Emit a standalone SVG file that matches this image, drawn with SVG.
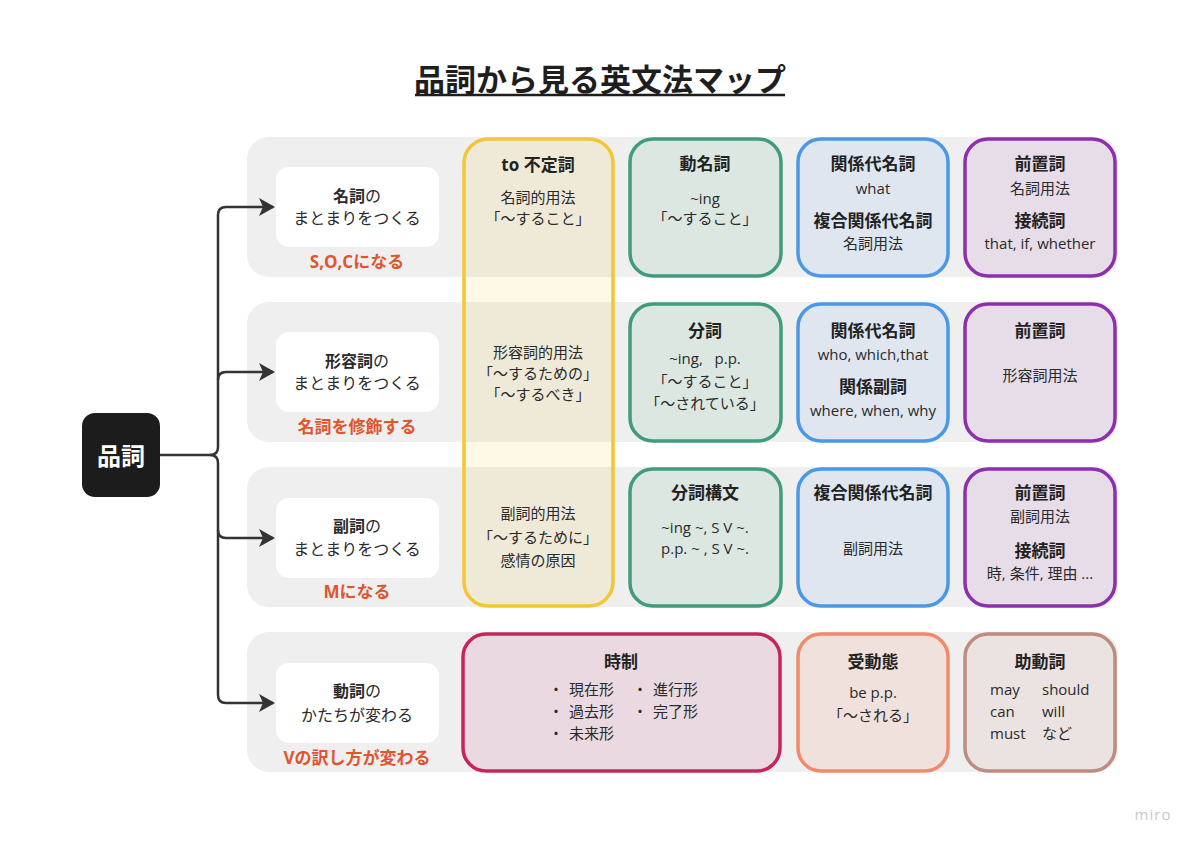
<svg xmlns="http://www.w3.org/2000/svg" width="1200" height="848" viewBox="0 0 1200 848">
<style>
text{font-family:"Open Sans","Noto Sans CJK JP",sans-serif;fill:#222;text-anchor:middle;dominant-baseline:central}
.t{font-size:31px;font-weight:700;fill:#1e1e1e}
.h{font-size:17px;font-weight:700}
.b{font-size:15px;fill:#2a2a2a}
.n{font-size:16px;fill:#2a2a2a}
.nb{font-weight:700}
.o{font-size:17px;font-weight:700;fill:#e0552d}
.l{text-anchor:start}
.band{fill:#efefef}
.wn{fill:#ffffff}
.conn{fill:none;stroke:#333;stroke-width:2.5}
.box{stroke-width:3.5}
</style>
<defs>
<marker id="arr" viewBox="0 0 16 18" refX="14" refY="9" markerWidth="16" markerHeight="18" markerUnits="userSpaceOnUse" orient="auto">
<path d="M0,0 L16,9 L0,18 L4,9 Z" fill="#333"/>
</marker>
</defs>
<rect width="1200" height="848" fill="#ffffff"/>

<g id="title">
<text class="t" x="600" y="79">品詞から見る英文法マップ</text>
<line x1="415" y1="95" x2="785" y2="95" stroke="#1e1e1e" stroke-width="2.5"/>
</g>

<g id="bands">
<rect class="band" x="247" y="137" width="871" height="140" rx="22"/>
<rect class="band" x="247" y="302" width="871" height="140" rx="22"/>
<rect class="band" x="247" y="467" width="871" height="140" rx="22"/>
<rect class="band" x="247" y="632" width="871" height="140" rx="22"/>
</g>

<g id="root">
<rect x="82" y="413" width="78" height="84" rx="13" fill="#1c1c1c"/>
<text x="121" y="455" style="font-size:24px;font-weight:700;fill:#ffffff">品詞</text>
</g>

<g id="connectors">
<path class="conn" d="M160 455 H210 Q218 455 218 447 V215 Q218 207 226 207 H273" marker-end="url(#arr)"/>
<path class="conn" d="M218 380 Q218 372 226 372 H273" marker-end="url(#arr)"/>
<path class="conn" d="M210 455 Q218 455 218 463 V695 Q218 703 226 703 H273" marker-end="url(#arr)"/>
<path class="conn" d="M218 530 Q218 538 226 538 H273" marker-end="url(#arr)"/>
</g>

<g id="node-noun">
<rect class="wn" x="276" y="167" width="163" height="80" rx="13"/>
<text class="n" x="357" y="196"><tspan class="nb">名詞</tspan>の</text>
<text class="n" x="357" y="218">まとまりをつくる</text>
<text class="o" x="357" y="261">S,O,Cになる</text>
</g>

<g id="node-adj">
<rect class="wn" x="276" y="332" width="163" height="80" rx="13"/>
<text class="n" x="357" y="361"><tspan class="nb">形容詞</tspan>の</text>
<text class="n" x="357" y="383">まとまりをつくる</text>
<text class="o" x="357" y="426">名詞を修飾する</text>
</g>

<g id="node-adv">
<rect class="wn" x="276" y="498" width="163" height="80" rx="13"/>
<text class="n" x="357" y="526"><tspan class="nb">副詞</tspan>の</text>
<text class="n" x="357" y="549">まとまりをつくる</text>
<text class="o" x="357" y="591">Mになる</text>
</g>

<g id="node-verb">
<rect class="wn" x="276" y="663" width="163" height="80" rx="13"/>
<text class="n" x="357" y="691"><tspan class="nb">動詞</tspan>の</text>
<text class="n" x="357" y="715">かたちが変わる</text>
<text class="o" x="357" y="757">Vの訳し方が変わる</text>
</g>

<g id="to-infinitive">
<rect class="box" x="464" y="139" width="149" height="467" rx="24" fill="#f5c518" fill-opacity="0.1" stroke="#f2c634"/>
<text class="h" x="538" y="164">to 不定詞</text>
<text class="b" x="538" y="197">名詞的用法</text>
<text class="b" x="538" y="218">「～すること」</text>
<text class="b" x="538" y="352">形容詞的用法</text>
<text class="b" x="538" y="373">「～するための」</text>
<text class="b" x="538" y="394">「～するべき」</text>
<text class="b" x="538" y="513">副詞的用法</text>
<text class="b" x="538" y="537">「～するために」</text>
<text class="b" x="538" y="560">感情の原因</text>
</g>

<g id="gerund">
<rect class="box" x="630" y="139" width="151" height="137" rx="23" fill="#dde7e2" stroke="#3f9d7e"/>
<text class="h" x="705" y="163">動名詞</text>
<text class="b" x="705" y="198">~ing</text>
<text class="b" x="705" y="218">「～すること」</text>
</g>

<g id="relpron-1">
<rect class="box" x="798" y="139" width="150" height="137" rx="23" fill="#dfe6f0" stroke="#4a98e6"/>
<text class="h" x="873" y="163">関係代名詞</text>
<text class="b" x="873" y="188">what</text>
<text class="h" x="873" y="220">複合関係代名詞</text>
<text class="b" x="873" y="243">名詞用法</text>
</g>

<g id="prep-1">
<rect class="box" x="965" y="139" width="150" height="137" rx="23" fill="#e7dde8" stroke="#8d2fae"/>
<text class="h" x="1040" y="163">前置詞</text>
<text class="b" x="1040" y="188">名詞用法</text>
<text class="h" x="1040" y="220">接続詞</text>
<text class="b" x="1040" y="243">that, if, whether</text>
</g>

<g id="participle">
<rect class="box" x="630" y="304" width="151" height="137" rx="23" fill="#dde7e2" stroke="#3f9d7e"/>
<text class="h" x="705" y="330">分詞</text>
<text class="b" x="705" y="358" xml:space="preserve">~ing,   p.p.</text>
<text class="b" x="705" y="381">「～すること」</text>
<text class="b" x="705" y="403">「～されている」</text>
</g>

<g id="relpron-2">
<rect class="box" x="798" y="304" width="150" height="137" rx="23" fill="#dfe6f0" stroke="#4a98e6"/>
<text class="h" x="873" y="330">関係代名詞</text>
<text class="b" x="873" y="354">who, which,that</text>
<text class="h" x="873" y="386">関係副詞</text>
<text class="b" x="873" y="410">where, when, why</text>
</g>

<g id="prep-2">
<rect class="box" x="965" y="304" width="150" height="137" rx="23" fill="#e7dde8" stroke="#8d2fae"/>
<text class="h" x="1040" y="330">前置詞</text>
<text class="b" x="1040" y="375">形容詞用法</text>
</g>

<g id="participle-construction">
<rect class="box" x="630" y="469" width="151" height="137" rx="23" fill="#dde7e2" stroke="#3f9d7e"/>
<text class="h" x="705" y="492">分詞構文</text>
<text class="b" x="705" y="527">~ing ~, S V ~.</text>
<text class="b" x="705" y="548">p.p. ~ , S V ~.</text>
</g>

<g id="compound-relpron">
<rect class="box" x="798" y="469" width="150" height="137" rx="23" fill="#dfe6f0" stroke="#4a98e6"/>
<text class="h" x="873" y="492">複合関係代名詞</text>
<text class="b" x="873" y="548">副詞用法</text>
</g>

<g id="prep-3">
<rect class="box" x="965" y="469" width="150" height="137" rx="23" fill="#e7dde8" stroke="#8d2fae"/>
<text class="h" x="1040" y="492">前置詞</text>
<text class="b" x="1040" y="516">副詞用法</text>
<text class="h" x="1040" y="550">接続詞</text>
<text class="b" x="1040" y="573">時, 条件, 理由 ...</text>
</g>

<g id="tense">
<rect class="box" x="463" y="634" width="317" height="137" rx="23" fill="#ebd9e2" stroke="#c8245d"/>
<text class="h" x="621" y="661">時制</text>
<text class="b" x="556" y="689">・</text><text class="b l" x="569" y="689">現在形</text>
<text class="b" x="640" y="689">・</text><text class="b l" x="653" y="689">進行形</text>
<text class="b" x="556" y="711">・</text><text class="b l" x="569" y="711">過去形</text>
<text class="b" x="640" y="711">・</text><text class="b l" x="653" y="711">完了形</text>
<text class="b" x="556" y="733">・</text><text class="b l" x="569" y="733">未来形</text>
</g>

<g id="passive">
<rect class="box" x="798" y="634" width="150" height="137" rx="23" fill="#f0e1dc" stroke="#ef8a6c"/>
<text class="h" x="873" y="661">受動態</text>
<text class="b" x="873" y="692">be p.p.</text>
<text class="b" x="873" y="715">「～される」</text>
</g>

<g id="auxiliary">
<rect class="box" x="965" y="634" width="150" height="137" rx="23" fill="#ebe3e1" stroke="#bf8c80"/>
<text class="h" x="1040" y="661">助動詞</text>
<text class="b l" x="990" y="689">may</text><text class="b l" x="1042" y="689">should</text>
<text class="b l" x="990" y="711">can</text><text class="b l" x="1042" y="711">will</text>
<text class="b l" x="990" y="733">must</text><text class="b l" x="1042" y="733">など</text>
</g>

<text x="1153" y="814" style="font-size:15px;fill:#c9c9c9;letter-spacing:1px">miro</text>
</svg>
